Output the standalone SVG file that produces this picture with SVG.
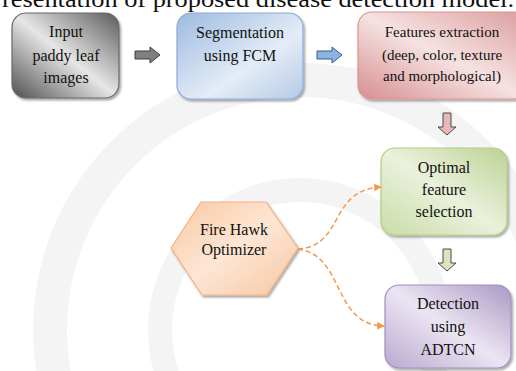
<svg xmlns="http://www.w3.org/2000/svg" width="516" height="371" viewBox="0 0 516 371">
<defs>
  <linearGradient id="gGray" x1="1" y1="0" x2="0" y2="1">
    <stop offset="0" stop-color="#5a5a5a"/>
    <stop offset="0.5" stop-color="#e6e6e6"/>
    <stop offset="1" stop-color="#4f4f4f"/>
  </linearGradient>
  <linearGradient id="gBlue" x1="0" y1="0" x2="1" y2="1">
    <stop offset="0" stop-color="#9dbbe0"/>
    <stop offset="0.6" stop-color="#e4ecf7"/>
    <stop offset="1" stop-color="#b5cae6"/>
  </linearGradient>
  <linearGradient id="gRed" x1="0" y1="1" x2="1" y2="0">
    <stop offset="0" stop-color="#d78e8f"/>
    <stop offset="0.5" stop-color="#f6e2e2"/>
    <stop offset="1" stop-color="#dc9c9c"/>
  </linearGradient>
  <linearGradient id="gGreen" x1="1" y1="0" x2="0" y2="1">
    <stop offset="0" stop-color="#bdd293"/>
    <stop offset="0.5" stop-color="#eaf1dc"/>
    <stop offset="1" stop-color="#cadca8"/>
  </linearGradient>
  <linearGradient id="gPurple" x1="1" y1="0" x2="0" y2="1">
    <stop offset="0" stop-color="#ab98c4"/>
    <stop offset="0.5" stop-color="#ebe5f2"/>
    <stop offset="1" stop-color="#b9a9cf"/>
  </linearGradient>
  <linearGradient id="gOrange" x1="0" y1="0" x2="1" y2="1">
    <stop offset="0" stop-color="#f8c9a2"/>
    <stop offset="0.5" stop-color="#fde6d5"/>
    <stop offset="1" stop-color="#f7c7a0"/>
  </linearGradient>
  <filter id="sh" x="-10%" y="-10%" width="130%" height="130%">
    <feDropShadow dx="1.5" dy="2" stdDeviation="1" flood-color="#000" flood-opacity="0.35"/>
  </filter>
  <marker id="ah" viewBox="0 0 10 10" refX="9" refY="5" markerWidth="5" markerHeight="5" orient="auto">
    <path d="M0,0 L10,5 L0,10 z" fill="#f79646"/>
  </marker>
  <style>
    .lbl { font-family: "Liberation Serif", "Times New Roman", serif; font-size: 16px; fill: #111; text-anchor: middle; }
    .sm { font-size: 15px; }
    .box { stroke-width: 1.2; filter: url(#sh); }
    .conn { fill: none; stroke: #f79646; stroke-width: 1.5; stroke-dasharray: 5 3; marker-end: url(#ah); }
    .blk { stroke-width: 1; }
  </style>
</defs>
<rect width="516" height="371" fill="#ffffff"/>
<g id="watermark" fill="none" stroke="#f4f4f4">
  <circle cx="300" cy="330" r="250" stroke-width="34"/>
  <circle cx="300" cy="330" r="140" stroke-width="24"/>
</g>
<text x="2" y="7" class="lbl" style="text-anchor:start;font-size:23px" textLength="512" lengthAdjust="spacingAndGlyphs">resentation of proposed disease detection model.</text>

<g id="input">
  <rect class="box" x="12" y="13" width="107" height="85" rx="14" fill="url(#gGray)" stroke="#6a6a6a"/>
  <text class="lbl" x="66" y="37">Input</text>
  <text class="lbl" x="66" y="61">paddy leaf</text>
  <text class="lbl" x="66" y="83">images</text>
</g>
<g id="segmentation">
  <rect class="box" x="177" y="13" width="126" height="86" rx="14" fill="url(#gBlue)" stroke="#8eaadb"/>
  <text class="lbl" x="240" y="38">Segmentation</text>
  <text class="lbl" x="240" y="61">using FCM</text>
</g>
<g id="features">
  <rect class="box" x="358" y="12" width="170" height="87" rx="14" fill="url(#gRed)" stroke="#d99694"/>
  <text class="lbl sm" x="442" y="37">Features extraction</text>
  <text class="lbl sm" x="442" y="60">(deep, color, texture</text>
  <text class="lbl sm" x="442" y="81">and morphological)</text>
</g>
<g id="optimal">
  <rect class="box" x="381" y="148" width="126" height="87" rx="14" fill="url(#gGreen)" stroke="#b5cc88"/>
  <text class="lbl" x="444" y="173">Optimal</text>
  <text class="lbl" x="444" y="195">feature</text>
  <text class="lbl" x="444" y="217">selection</text>
</g>
<g id="detection">
  <rect class="box" x="385" y="285" width="126" height="83" rx="14" fill="url(#gPurple)" stroke="#a38fc0"/>
  <text class="lbl" x="448" y="309">Detection</text>
  <text class="lbl" x="448" y="332">using</text>
  <text class="lbl" x="448" y="355">ADTCN</text>
</g>
<g id="firehawk">
  <polygon class="box" points="171,248 201,202 266,202 298,248 267,295 202,295" fill="url(#gOrange)" stroke="#f4b183"/>
  <text class="lbl" x="234" y="235">Fire Hawk</text>
  <text class="lbl" x="234" y="255">Optimizer</text>
</g>

<g id="connectors">
  <polygon class="blk" points="135,51 150,51 150,47 160,55 150,63 150,59 135,59" fill="#7f7f7f" stroke="#3f3f3f"/>
  <polygon class="blk" points="317,51 332,51 332,47 342,55 332,63 332,59 317,59" fill="#8db3e2" stroke="#3a5a8a"/>
  <polygon class="blk" points="443,113 451,113 451,127 456,127 447,135 438,127 443,127" fill="#e6b9b8" stroke="#4a4a4a"/>
  <polygon class="blk" points="443,249 451,249 451,263 456,263 447,271 438,263 443,263" fill="#d7e4bd" stroke="#4a4a4a"/>
  <path class="conn" d="M298,249 C345,246 328,190 381,187"/>
  <path class="conn" d="M298,249 C345,255 332,325 384,326"/>
</g>
</svg>
